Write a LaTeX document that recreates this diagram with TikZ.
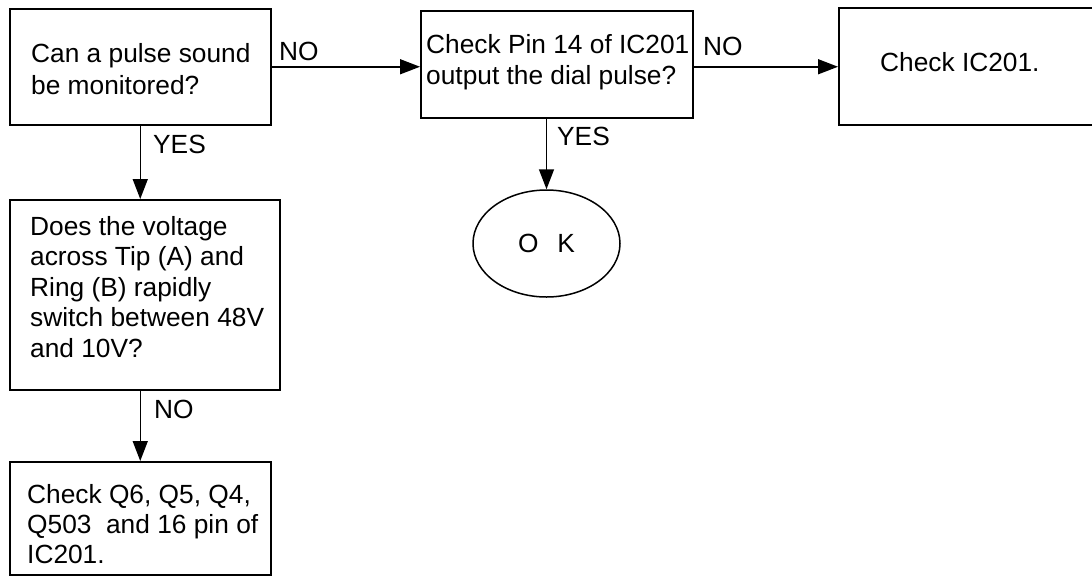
\documentclass[tikz,border=0pt]{standalone}
\usepackage{fontspec}
\setmainfont{Liberation Sans}
\usetikzlibrary{arrows.meta,shapes.geometric}
\begin{document}
\begin{tikzpicture}[x=1pt,y=-1pt,
  box/.style={draw, line width=1.5pt, inner sep=0pt, anchor=north west},
  txt/.style={inner sep=0pt, align=left, anchor=north west},
  lbl/.style={inner sep=0pt, anchor=base west, font=\fontsize{26.3}{31}\selectfont},
  arr/.style={line width=1.5pt, -{Triangle[length=20pt,width=15pt]}}]
\useasboundingbox (0,0) rectangle (1092,576);
% boxes
\node[box, minimum width=261pt, minimum height=116pt] (b1) at (9,8) {};
\node[box, minimum width=272pt, minimum height=107pt] (b2) at (420,10) {};
\node[box, minimum width=270pt, minimum height=117pt] (b3) at (838,7) {};
\node[box, minimum width=270pt, minimum height=190pt] (b4) at (9,199) {};
\node[box, minimum width=261pt, minimum height=113pt] (b5) at (9,461) {};
\node[draw, line width=1.5pt, ellipse, inner sep=0pt, minimum width=147pt, minimum height=107pt,
  font=\fontsize{26.3}{31}\selectfont] (ok) at (546.5,243.5) {O\hspace{19pt}K};
% texts
\node[txt, font=\fontsize{26.3}{32}\selectfont] (t1) at (31,43) {Can a pulse sound\\be monitored?};
\node[txt, font=\fontsize{26.3}{31}\selectfont] (t2) at (426,34) {Check Pin 14 of IC201\\output the dial pulse?};
\node[lbl] (t3) at (880,71) {Check IC201.};
\node[txt, font=\fontsize{26.3}{30.5}\selectfont] (t4) at (30,216) {Does the voltage\\across Tip (A) and\\Ring (B) rapidly\\switch between 48V\\and 10V?};
\node[txt, font=\fontsize{26.3}{30}\selectfont] (t5) at (27,484) {Check Q6, Q5, Q4,\\Q503\ \ and 16 pin of\\IC201.};
% labels
\node[lbl] (l1) at (279,60) {NO};
\node[lbl] (l2) at (153,153) {YES};
\node[lbl] (l3) at (703,55) {NO};
\node[lbl] (l4) at (557,145) {YES};
\node[lbl] (l5) at (154,418) {NO};
% connectors
\coordinate (c1) at (140,124);
\draw[arr] (b1.east) -- (b1.east -| b2.west);
\draw[arr] (b1.east -| b2.east) -- (b1.east -| b3.west);
\draw[arr] (b1.south) -- (b1.south |- b4.north);
\draw[arr] (b1.south |- b4.south) -- (b1.south |- b5.north);
\draw[arr] (ok.north |- b2.south) -- (ok.north);
\end{tikzpicture}
\end{document}
